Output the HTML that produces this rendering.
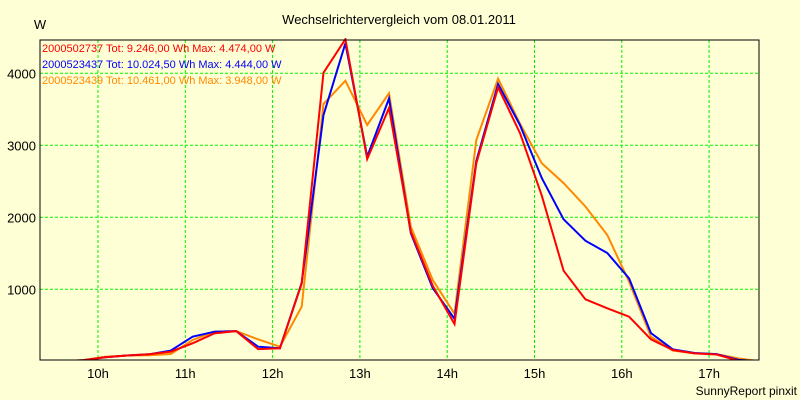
<!DOCTYPE html>
<html><head><meta charset="utf-8"><style>
body{margin:0;background:#ffffd6;}
svg{display:block;font-family:"Liberation Sans",Arial,sans-serif;}
</style></head><body>
<svg id="chart" width="800" height="400" viewBox="0 0 800 400">
<rect x="0" y="0" width="800" height="400" fill="#ffffd6"/>
<text x="399" y="24" text-anchor="middle" font-size="13">Wechselrichtervergleich vom 08.01.2011</text>
<text x="40" y="29" text-anchor="middle" font-size="13">W</text>
<g id="grid"></g>
<clipPath id="clip"><rect x="40" y="38" width="719" height="321.5"/></clipPath>
<g id="series" clip-path="url(#clip)"></g>
<rect x="40" y="40" width="719" height="320" fill="none" stroke="#000" stroke-width="1"/>
<g id="ticks"></g>
<g id="legend"></g>
<text x="797" y="395" text-anchor="end" font-size="12">SunnyReport pinxit</text>
</svg>
<script>
const times = ["9:20","9:35","9:50","10:05","10:20","10:35","10:50","11:05","11:20","11:35","11:50","12:05","12:20","12:35","12:50","13:05","13:20","13:35","13:50","14:05","14:20","14:35","14:50","15:05","15:20","15:35","15:50","16:05","16:20","16:35","16:50","17:05","17:20","17:35"];
const redValues = [0,0,15,55,80,97,134,250,388,420,170,180,1080,4008,4474,2808,3518,1800,1050,518,2750,3805,3170,2300,1258,861,736,620,305,157,110,95,10,0];
const blueValues = [0,0,15,55,80,97,148,342,411,420,203,180,1090,3420,4416,2842,3650,1780,1018,590,2780,3851,3280,2545,1972,1675,1504,1152,393,166,115,100,20,0];
const orangeValues = [0,0,18,64,80,83,101,296,412,420,305,203,758,3573,3897,3282,3722,1870,1130,660,3073,3925,3300,2750,2475,2150,1754,1105,342,150,110,100,40,0];
const yTicks = [1000,2000,3000,4000];
const xTicks = ["10h","11h","12h","13h","14h","15h","16h","17h"];
const legendLabels = ["2000502737 Tot: 9.246,00 Wh Max: 4.474,00 W","2000523437 Tot: 10.024,50 Wh Max: 4.444,00 W","2000523439 Tot: 10.461,00 Wh Max: 3.948,00 W"];

const NS="http://www.w3.org/2000/svg";
const L=40,R=759,T=40,B=360;
const y0=361.3, pxPerW=0.072;
function hours(s){const p=s.split(":");return +p[0]+(+p[1])/60;}
function xs(h){return 98+(h-10)*87.3;}
function ys(v){return y0-v*pxPerW;}
function mk(tag,attrs,parent){const e=document.createElementNS(NS,tag);for(const k in attrs)e.setAttribute(k,attrs[k]);parent.appendChild(e);return e;}
const grid=document.getElementById('grid'),ticks=document.getElementById('ticks'),ser=document.getElementById('series'),leg=document.getElementById('legend');
yTicks.forEach(v=>{
  const y=ys(v);
  const gl=mk('line',{x1:L,x2:R,y1:y,y2:y,stroke:'#00f000','stroke-dasharray':'3,2'},grid);
  
  
  const t=mk('text',{x:36,y:y+5,'text-anchor':'end','font-size':'13'},ticks);
  t.textContent=v;
  
  
});
xTicks.forEach(s=>{
  const x=xs(parseInt(s));
  const gl=mk('line',{x1:x,x2:x,y1:T,y2:B,stroke:'#00f000','stroke-dasharray':'3,2'},grid);
  
  
  const t=mk('text',{x:x,y:378,'text-anchor':'middle','font-size':'13'},ticks);
  t.textContent=s;
  
  
});
const series=[["red",redValues,"#ff0000"],["blue",blueValues,"#0000ff"],["orange",orangeValues,"#ff8800"]];
[series[2],series[1],series[0]].forEach(s=>{
  const pts=s[1].map((v,i)=>xs(hours(times[i])).toFixed(1)+","+ys(v).toFixed(1)).join(" ");
  const pl=mk('polyline',{points:pts,fill:'none',stroke:s[2],'stroke-width':'2','stroke-linejoin':'miter'},ser);
  
  
});
legendLabels.forEach((lab,i)=>{
  const t=mk('text',{x:42,y:52+i*16,'font-size':'11',fill:series[i][2]},leg);
  t.textContent=lab;
  
  
});
</script>
</body></html>
